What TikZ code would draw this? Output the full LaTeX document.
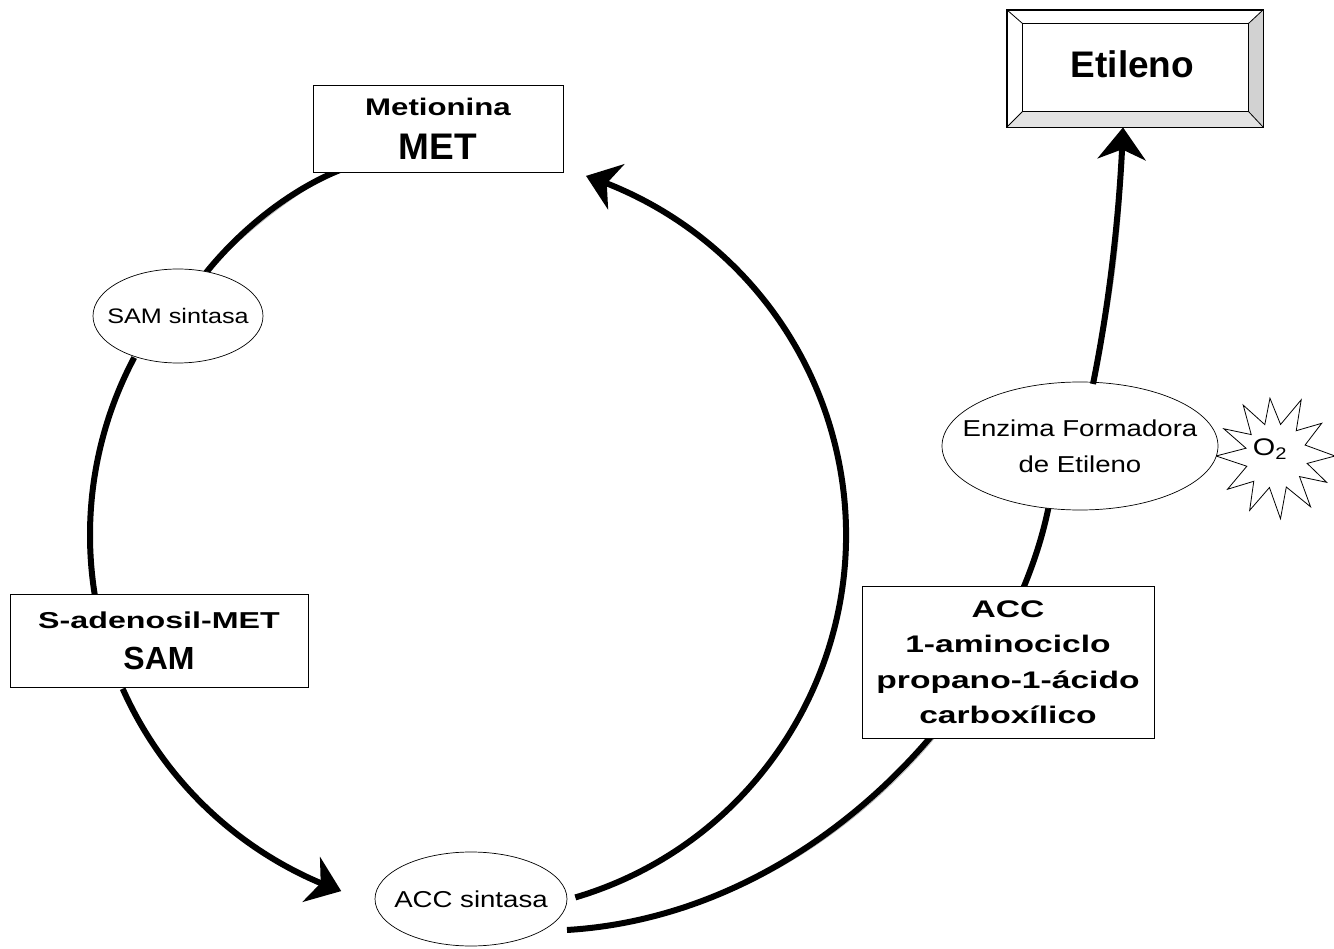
\documentclass[tikz,border=0pt]{standalone}
\usepackage{fontspec}
\setmainfont{Liberation Sans}
\newfontfamily\wbold[FakeStretch=1.4]{Liberation Sans}
\newfontfamily\wboldb[FakeStretch=1.3]{Liberation Sans}
\newfontfamily\wreg[FakeStretch=1.2]{Liberation Sans}
\usetikzlibrary{arrows.meta,bending,shapes.geometric,backgrounds,calc}
\newcommand{\zb}[1]{\makebox[0pt]{#1}}
\begin{document}
\begin{tikzpicture}[x=1pt,y=-1pt,
  box/.style={draw, line width=0.8pt, fill=white, inner sep=0pt, align=center},
  enz/.style={draw, ellipse, line width=0.7pt, fill=white, inner sep=0pt, align=center},
  flow/.style={line width=6pt, black},
  shade/.style={line width=0.7pt, gray!55, shift={(4,3)}},
  tip/.style={-{Stealth[length=32pt,width=48pt,inset=10pt]}},
  bevel/.style={draw, line width=0.8pt}]
\useasboundingbox (0,0) rectangle (1334,949);

% nodes
\node[box, minimum width=250pt, minimum height=87pt,
      font=\rmfamily\bfseries\fontsize{37}{44}\selectfont] (met) at (438,128.5)
  {{\wboldb\bfseries\fontsize{24}{28}\selectfont Metionina}\\MET};
\node[box, minimum width=298pt, minimum height=93pt,
      font=\rmfamily\bfseries\fontsize{32}{41}\selectfont] (sam) at (159,641)
  {{\wbold\bfseries\fontsize{23}{28}\selectfont S-adenosil-MET}\\SAM};
\node[box, minimum width=292pt, minimum height=152pt,
      font=\wbold\bfseries\fontsize{24}{35.5}\selectfont] (acc) at (1008,662)
  {ACC\\1-aminociclo\\propano-1-ácido\\carboxílico};
\node[enz, minimum width=170pt, minimum height=94pt,
      font=\wreg\fontsize{21}{25}\selectfont] (sams) at (178,316) {\zb{SAM sintasa}};
\node[enz, minimum width=192pt, minimum height=94pt,
      font=\wreg\fontsize{23}{28}\selectfont] (accs) at (471,899) {\zb{ACC sintasa}};

% O2 starburst
\begin{scope}[shift={(1275,456)}]
\draw[line width=0.8pt, fill=white] (0:60) -- (13:33) -- (27:58) -- (40:32) -- (55:62) -- (70:33) -- (85:63) -- (100:32) -- (115:60) -- (130:33) -- (145:58) -- (160:30) -- (180:59) -- (195:30) -- (208:58) -- (222:32) -- (238:60) -- (252:33) -- (265:58) -- (280:32) -- (295:62) -- (310:33) -- (325:57) -- (340:32) -- cycle;
\end{scope}
\node[font=\wreg\fontsize{24}{24}\selectfont, inner sep=0pt] (o2) at (1270,449) {O\textsubscript{2}};

\node[enz, minimum width=276pt, minimum height=128pt,
      font=\wreg\fontsize{23}{36}\selectfont] (efe) at (1080,446)
  {\zb{Enzima Formadora}\\\zb{de Etileno}};

% Etileno beveled box
\node[draw, line width=0.8pt, fill=white, minimum width=256pt, minimum height=117pt, inner sep=0pt]
  (eti) at (1135,68.5) {};
\coordinate (i1) at ([shift={(16,14)}]eti.north west);
\coordinate (i2) at ([shift={(-15,14)}]eti.north east);
\coordinate (i3) at ([shift={(-15,-16)}]eti.south east);
\coordinate (i4) at ([shift={(16,-16)}]eti.south west);
\fill[gray!22] (eti.south west) -- (eti.south east) -- (i3) -- (i4) -- cycle;
\fill[gray!35] (eti.north east) -- (eti.south east) -- (i3) -- (i2) -- cycle;
\draw[bevel] (eti.south west) rectangle (eti.north east);
\draw[bevel] (i1) -- (i2) -- (i3) -- (i4) -- cycle;
\draw[bevel] (eti.north west) -- (i1) (eti.north east) -- (i2)
             (eti.south east) -- (i3) (eti.south west) -- (i4);
\node[font=\rmfamily\bfseries\fontsize{37}{40}\selectfont] (etitext) at ($(i1)!0.5!(i3)+(-3,-3)$) {Etileno};

% connectors
\coordinate (C) at (468,535);
\coordinate (t0) at (340,170);
\coordinate (t1) at (205,274);
\coordinate (a2) at ([shift={(-152:378)}]C);
\coordinate (a3) at ([shift={(-204:378)}]C);
\coordinate (a4) at ([shift={(73.5:378)}]C);
\coordinate (l0) at (567,930);
\coordinate (l1) at (1049,505);
\coordinate (u0) at (1093,384);
\coordinate (u1) at (eti.south -| 1123,0);
\begin{scope}[on background layer]
  \draw[shade] (t0) .. controls (290,190) and (240,230) .. (t1);
  \draw[flow]  (t0) .. controls (290,190) and (240,230) .. (t1);
  \draw[shade] (a2) arc[start angle=-152, end angle=-192, radius=378];
  \draw[flow]  (a2) arc[start angle=-152, end angle=-192, radius=378];
  \draw[shade] (a3) arc[start angle=-204, end angle=-250.4, radius=378];
  \draw[shade] (a4) arc[start angle=73.5, end angle=-71.8, radius=378];
  \draw[shade] (l0) .. controls (817,915) and (1012,693) .. (l1);
  \draw[flow]  (l0) .. controls (817,915) and (1012,693) .. (l1);
  \draw[shade] (u0) .. controls (1110,300) and (1120,210) .. (u1);
\end{scope}
\draw[flow, tip] (a3) arc[start angle=-204, end angle=-250.4, radius=378];
\draw[flow, tip] (a4) arc[start angle=73.5, end angle=-71.8, radius=378];
\draw[flow, tip] (u0) .. controls (1110,300) and (1120,210) .. (u1);
\end{tikzpicture}
\end{document}
